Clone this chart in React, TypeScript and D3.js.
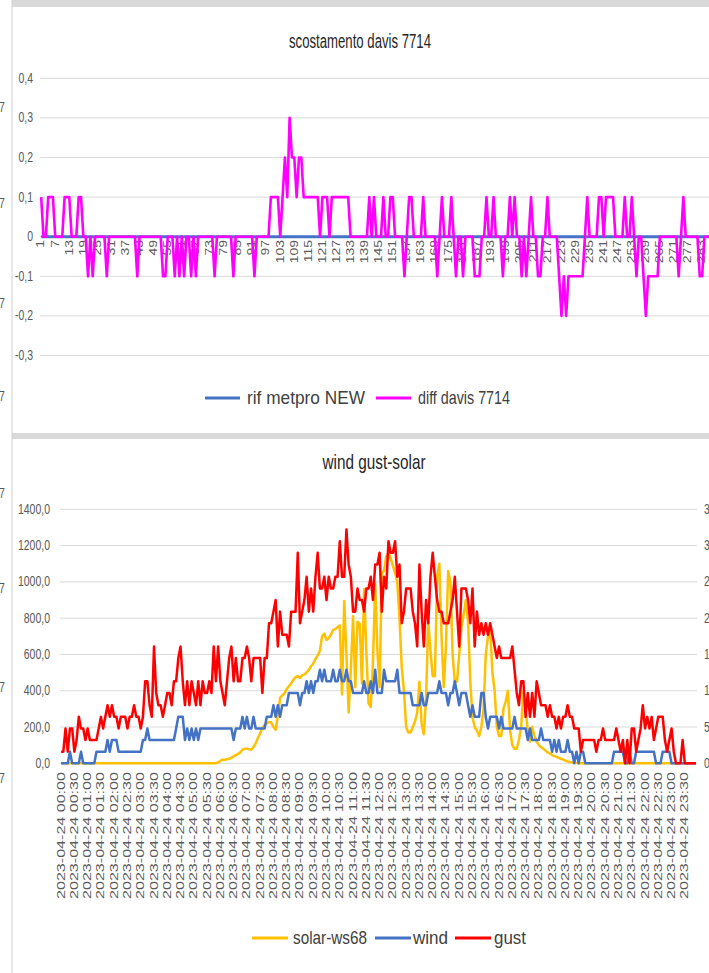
import React from 'react';
import * as d3 from 'd3';

const FONT = '"Liberation Sans", Arial, sans-serif';
const SY = 1.35;

// ---------------- top chart data ----------------
const topYTicks = [0.4, 0.3, 0.2, 0.1, 0, -0.1, -0.2, -0.3];
const topYLabels = ['0,4', '0,3', '0,2', '0,1', '0', '-0,1', '-0,2', '-0,3'];

const rifMetproNew = [
  0,0,0,0,0,0,0,0,0,0,0,0,0,0,0,0,0,0,0,0,0,0,0,0,
  0,0,0,0,0,0,0,0,0,0,0,0,0,0,0,0,0,0,0,0,0,0,0,0,
  0,0,0,0,0,0,0,0,0,0,0,0,0,0,0,0,0,0,0,0,0,0,0,0,
  0,0,0,0,0,0,0,0,0,0,0,0,0,0,0,0,0,0,0,0,0,0,0,0,
  0,0,0,0,0,0,0,0,0,0,0,0,0,0,0,0,0,0,0,0,0,0,0,0,
  0,0,0,0,0,0,0,0,0,0,0,0,0,0,0,0,0,0,0,0,0,0,0,0,
  0,0,0,0,0,0,0,0,0,0,0,0,0,0,0,0,0,0,0,0,0,0,0,0,
  0,0,0,0,0,0,0,0,0,0,0,0,0,0,0,0,0,0,0,0,0,0,0,0,
  0,0,0,0,0,0,0,0,0,0,0,0,0,0,0,0,0,0,0,0,0,0,0,0,
  0,0,0,0,0,0,0,0,0,0,0,0,0,0,0,0,0,0,0,0,0,0,0,0,
  0,0,0,0,0,0,0,0,0,0,0,0,0,0,0,0,0,0,0,0,0,0,0,0,
  0,0,0,0,0,0,0,0,0,0,0,0,0,0,0,0,0,0,0,0,0,0,0,0,
];

const diffDavis7714 = [
  0.1,0,0,0.1,0.1,0.1,0,0,0,0,0.1,0.1,0.1,0,0,0,0.1,0.1,0,0,-0.1,0,-0.1,0,
  0,0,0,0,-0.1,0,0,0,0,0,0,0,0,0,0,0,0,-0.1,0,0,0,0,0,0,
  0,0,0,0,-0.1,-0.1,0,0,0,-0.1,0,-0.1,0,-0.1,0,0,-0.1,0,-0.1,0,0,0,0,0,
  0,0,-0.1,0,0,0,0,0,0,0,-0.1,0,0,0,0,0,0,0,0,-0.1,0,0,0,0,
  0,0,0.1,0.1,0.1,0.1,0,0.1,0.2,0.1,0.3,0.2,0.2,0.1,0.2,0.2,0.1,0.1,0.1,0.1,0.1,0.1,0.1,0,
  0.1,0.1,0.1,0,0.1,0.1,0.1,0.1,0.1,0.1,0.1,0.1,0,0,0,0,0,0,0,0,0.1,0,0.1,0,
  0,0,0.1,0,0,0.1,0.1,0,0,0,0,-0.1,0,0.1,0.1,0,0,0,0,0.1,0,0,0,0,
  0,-0.1,0,0.1,0,0,0,0.1,0,-0.1,0,0,-0.1,0,0,0,0,-0.1,-0.1,-0.1,0,0,0.1,0,
  0,0.1,0,0,0,-0.1,0,0,0.1,0,0.1,0,0,-0.1,0,-0.1,0,0.1,0,0,-0.1,-0.1,0,0,
  0.1,0,0,0,0,-0.1,-0.2,-0.1,-0.2,-0.1,-0.1,-0.1,-0.1,-0.1,-0.1,-0.1,0,0.1,0,0,0,0,0.1,0.1,
  0,0.1,0.1,0.1,0.1,0,0,0,0,0.1,0,0,0.1,0,-0.1,0,0,-0.1,-0.2,-0.1,-0.1,-0.1,-0.1,-0.1,
  0,0,0,0,0,0,0,0,-0.1,0,0.1,0,0,0,0,0,0,-0.1,-0.1,0,0,0,0,0,
];

// ---------------- bottom chart data ----------------
const timeLabels = [
  '2023-04-24 00:00','2023-04-24 00:30','2023-04-24 01:00','2023-04-24 01:30',
  '2023-04-24 02:00','2023-04-24 02:30','2023-04-24 03:00','2023-04-24 03:30',
  '2023-04-24 04:00','2023-04-24 04:30','2023-04-24 05:00','2023-04-24 05:30',
  '2023-04-24 06:00','2023-04-24 06:30','2023-04-24 07:00','2023-04-24 07:30',
  '2023-04-24 08:00','2023-04-24 08:30','2023-04-24 09:00','2023-04-24 09:30',
  '2023-04-24 10:00','2023-04-24 10:30','2023-04-24 11:00','2023-04-24 11:30',
  '2023-04-24 12:00','2023-04-24 12:30','2023-04-24 13:00','2023-04-24 13:30',
  '2023-04-24 14:00','2023-04-24 14:30','2023-04-24 15:00','2023-04-24 15:30',
  '2023-04-24 16:00','2023-04-24 16:30','2023-04-24 17:00','2023-04-24 17:30',
  '2023-04-24 18:00','2023-04-24 18:30','2023-04-24 19:00','2023-04-24 19:30',
  '2023-04-24 20:00','2023-04-24 20:30','2023-04-24 21:00','2023-04-24 21:30',
  '2023-04-24 22:00','2023-04-24 22:30','2023-04-24 23:00','2023-04-24 23:30',
];
const leftTicks = [0, 200, 400, 600, 800, 1000, 1200, 1400];
const leftLabels = ['0,0', '200,0', '400,0', '600,0', '800,0', '1000,0', '1200,0', '1400,0'];
const rightTicks = [0, 5, 10, 15, 20, 25, 30, 35];
const rightLabels = ['0,0', '5,0', '10,0', '15,0', '20,0', '25,0', '30,0', '35,0'];

// W/m2 (left axis)
const solarWs68 = [
  0,0,0,0,0,0,0,0,0,0,0,0,0,0,0,0,0,0,0,0,0,0,0,0,
  0,0,0,0,0,0,0,0,0,0,0,0,0,0,0,0,0,0,0,0,0,0,0,0,
  0,0,0,0,0,0,0,0,0,0,0,0,0,0,0,0,0,0,0,0,0,0,0,5,
  13,20,20,22,25,30,38,45,52,60,75,80,80,78,75,90,110,140,165,195,212,220,228,225,
  200,185,260,360,375,385,410,425,440,460,475,480,470,485,490,500,515,535,550,575,595,620,700,715,
  680,690,710,735,740,750,760,380,895,600,280,520,810,420,780,770,440,960,620,330,310,560,990,620,
  420,1050,1060,1140,1160,1130,1090,1050,1000,800,530,400,200,170,170,200,230,280,450,220,160,360,790,620,
  480,480,1030,1100,700,420,650,1060,1000,600,450,450,600,750,820,900,780,450,250,200,180,150,200,300,
  600,700,740,500,400,200,150,150,300,340,400,180,100,80,80,130,200,400,300,180,120,200,150,120,
  100,90,80,70,60,55,45,40,35,30,25,20,15,10,8,5,3,1,0,0,0,0,0,0,
  0,0,0,0,0,0,0,0,0,0,0,0,0,0,0,0,0,0,0,0,0,0,0,0,
  0,0,0,0,0,0,0,0,0,0,0,0,0,0,0,0,0,0,0,0,0,0,0,0,
];

// km/h (right axis)
const wind = [
  0,0,0,0,1.6,0,0,0,0,1.6,0,0,0,0,0,0,1.6,1.6,1.6,1.6,1.6,3.2,1.6,3.2,
  3.2,3.2,1.6,1.6,1.6,1.6,1.6,1.6,1.6,1.6,1.6,1.6,1.6,3.2,3.2,4.8,3.2,3.2,3.2,3.2,3.2,3.2,3.2,3.2,
  3.2,3.2,3.2,3.2,4.8,6.4,6.4,6.4,3.2,4.8,3.2,4.8,3.2,4.8,3.2,4.8,4.8,4.8,4.8,4.8,4.8,4.8,4.8,4.8,
  4.8,4.8,4.8,4.8,4.8,4.8,3.2,4.8,4.8,4.8,6.4,4.8,6.4,4.8,4.8,6.4,4.8,4.8,4.8,4.8,4.8,6.4,6.4,6.4,
  8.0,6.4,8.0,6.4,8.0,8.0,8.0,9.7,9.7,9.7,9.7,9.7,8.0,9.7,9.7,11.3,9.7,11.3,9.7,11.3,11.3,12.9,11.3,12.9,
  11.3,11.3,11.3,12.9,11.3,11.3,12.9,11.3,11.3,12.9,11.3,11.3,9.7,9.7,9.7,9.7,9.7,11.3,9.7,9.7,11.3,9.7,12.9,9.7,
  9.7,9.7,12.9,11.3,11.3,11.3,11.3,11.3,12.9,9.7,9.7,9.7,9.7,9.7,9.7,8.0,8.0,8.0,8.0,9.7,8.0,8.0,9.7,9.7,
  9.7,9.7,9.7,11.3,9.7,9.7,9.7,8.0,9.7,9.7,11.3,9.7,8.0,9.7,9.7,9.7,8.0,6.4,8.0,6.4,6.4,6.4,9.7,9.7,
  6.4,4.8,6.4,6.4,6.4,6.4,4.8,6.4,4.8,4.8,4.8,4.8,4.8,6.4,4.8,4.8,4.8,4.8,4.8,3.2,4.8,3.2,3.2,3.2,
  3.2,4.8,3.2,3.2,3.2,3.2,1.6,3.2,1.6,3.2,1.6,1.6,1.6,3.2,1.6,1.6,0,1.6,0,1.6,1.6,0,0,0,
  0,0,0,0,0,0,0,0,0,0,1.6,1.6,1.6,1.6,1.6,0,0,1.6,0,0,1.6,1.6,1.6,1.6,
  1.6,1.6,1.6,1.6,1.6,0,0,0,1.6,1.6,1.6,1.6,0,0,0,0,0,0,0,0,0,0,0,0,
];

const gust = [
  1.6,1.6,4.8,1.6,4.8,4.8,1.6,3.2,6.4,4.8,4.8,3.2,4.8,3.2,3.2,3.2,3.2,4.8,6.4,4.8,6.4,8.0,6.4,8.0,
  6.4,6.4,4.8,6.4,6.4,6.4,4.8,6.4,6.4,8.0,6.4,6.4,4.8,6.4,11.3,11.3,8.0,6.4,16.1,9.7,8.0,8.0,6.4,8.0,
  9.7,9.7,8.0,11.3,11.3,14.5,16.1,11.3,8.0,11.3,8.0,11.3,9.7,8.0,11.3,8.0,11.3,9.7,9.7,11.3,9.7,16.1,11.3,16.1,
  11.3,9.7,8.0,11.3,14.5,16.1,11.3,14.5,11.3,11.3,14.5,14.5,16.1,14.5,11.3,14.5,14.5,14.5,14.5,9.7,14.5,14.5,19.3,19.3,
  20.9,22.5,16.1,20.9,17.7,17.7,17.7,16.1,20.9,20.9,20.9,29.0,19.3,20.9,22.5,25.7,20.9,24.1,20.9,25.7,29.0,24.1,24.1,25.7,
  22.5,25.7,24.1,24.1,25.7,25.7,30.6,25.7,25.7,32.2,27.4,25.7,20.9,20.9,24.1,22.5,22.5,20.9,24.1,24.1,25.7,22.5,27.4,27.4,
  29.0,20.9,25.7,24.1,30.6,29.0,29.0,30.6,25.7,27.4,19.3,20.9,24.1,24.1,24.1,20.9,19.3,16.1,27.4,20.9,16.1,22.5,19.3,25.7,
  29.0,25.7,22.5,20.9,20.9,19.3,19.3,19.3,20.9,22.5,25.7,20.9,16.1,24.1,24.1,24.1,22.5,19.3,24.1,16.1,20.9,17.7,19.3,17.7,
  19.3,17.7,19.3,17.7,16.1,14.5,16.1,14.5,14.5,14.5,14.5,14.5,16.1,12.9,9.7,8.0,11.3,11.3,6.4,9.7,6.4,9.7,6.4,11.3,
  9.7,8.0,8.0,8.0,6.4,8.0,6.4,6.4,4.8,6.4,4.8,6.4,6.4,8.0,6.4,6.4,4.8,4.8,4.8,1.6,3.2,3.2,3.2,3.2,
  3.2,3.2,1.6,3.2,3.2,4.8,3.2,3.2,3.2,3.2,3.2,4.8,3.2,1.6,3.2,0,3.2,0,4.8,4.8,1.6,3.2,4.8,8.0,
  4.8,6.4,4.8,6.4,3.2,4.8,6.4,6.4,6.4,3.2,1.6,3.2,4.8,1.6,0,0,0,3.2,0,0,0,0,0,0,
];

const legendTop = [
  { name: 'rif metpro NEW', color: '#4472C4' },
  { name: 'diff davis 7714', color: '#FF00FF' },
];
const legendBottom = [
  { name: 'solar-ws68', color: '#FFC000' },
  { name: 'wind', color: '#4472C4' },
  { name: 'gust', color: '#FF0000' },
];

type TProps = {
  x: number; y: number; children: React.ReactNode; anchor?: string; size?: number;
  fill?: string; sx?: number; sy?: number; rotate?: number; len?: number; weight?: number;
};
function T({ x, y, children, anchor = 'start', size = 10.5, fill = '#595959', sx = 1, sy = SY, rotate = 0, len, weight }: TProps) {
  const tr = `translate(${x},${y}) scale(${sx},${sy})` + (rotate ? ` rotate(${rotate})` : '');
  return (
    <text
      transform={tr}
      textAnchor={anchor as any}
      dominantBaseline="central"
      fontSize={size}
      fill={fill}
      fontFamily={FONT}
      fontWeight={weight}
      {...(len ? { textLength: len, lengthAdjust: 'spacingAndGlyphs' } : {})}
    >
      {children}
    </text>
  );
}

export default function App() {
  const W = 709, H = 973;
  const n = diffDavis7714.length;
  const idx = d3.range(n);

  // ---- top chart scales ----
  const xTop = d3.scaleBand<number>().domain(idx).range([40, 715]);
  const xTopC = (i: number) => (xTop(i) as number) + xTop.bandwidth() / 2;
  const yTop = d3.scaleLinear().domain([-0.3, 0.4]).range([355.5, 78.3]);
  const lineTop = d3.line<number>().x((_, i) => xTopC(i)).y((v) => yTop(v));

  // ---- bottom chart scales ----
  const xBot = d3.scaleBand<number>().domain(idx).range([60, 697]);
  const xBotC = (i: number) => (xBot(i) as number) + xBot.bandwidth() / 2;
  const yL = d3.scaleLinear().domain([0, 1400]).range([763.3, 509.3]);
  const yR = d3.scaleLinear().domain([0, 35]).range([763.3, 509.3]);
  const lineL = d3.line<number>().x((_, i) => xBotC(i)).y((v) => yL(v));
  const lineR = d3.line<number>().x((_, i) => xBotC(i)).y((v) => yR(v));

  const edgeSevens = [107, 203, 303, 396, 493, 588, 687, 778];

  return (
    <svg width={W} height={H} style={{ position: 'absolute', left: 0, top: 0, background: '#fff' }}>
      <rect x={0} y={0} width={W} height={H} fill="#fff" />
      {/* sheet bands */}
      <rect x={12} y={0} width={W} height={7} fill="#d9d9d9" />
      <rect x={12} y={433} width={W} height={6} fill="#d9d9d9" />
      <line x1={12} x2={12} y1={0} y2={H} stroke="#d0d0d0" strokeWidth={1} />
      {edgeSevens.map((y, k) => (
        <T key={k} x={-1} y={y} size={10.5}>7</T>
      ))}

      {/* ================= TOP CHART ================= */}
      <T x={360} y={41} anchor="middle" size={15} fill="#262626" sy={1.35} len={142}>scostamento davis 7714</T>
      {topYTicks.map((t, k) => (
        <g key={k}>
          <line x1={40} x2={715} y1={yTop(t)} y2={yTop(t)} stroke="#d9d9d9" strokeWidth={1} />
          <T x={33} y={yTop(t)} anchor="end">{topYLabels[k]}</T>
        </g>
      ))}
      {idx.filter((i) => i % 6 === 0).map((i) => (
        <T key={i} x={xTopC(i)} y={240} anchor="end" rotate={-90} size={10} sy={1.4}>{String(i + 1)}</T>
      ))}
      <path d={lineTop(rifMetproNew) || ''} fill="none" stroke="#4472C4" strokeWidth={3} />
      <path d={lineTop(diffDavis7714) || ''} fill="none" stroke="#FF00FF" strokeWidth={2.6} strokeLinejoin="round" />

      {/* top legend */}
      {legendTop.map((l, k) => {
        const lx = [205, 376][k];
        const tx = [247, 418][k];
        const tl = [118, 92][k];
        return (
          <g key={k}>
            <line x1={lx} x2={lx + 35} y1={398} y2={398} stroke={l.color} strokeWidth={3} />
            <T x={tx} y={398} size={13} fill="#404040" sy={1.35} len={tl}>{l.name}</T>
          </g>
        );
      })}

      {/* ================= BOTTOM CHART ================= */}
      <T x={374} y={463} anchor="middle" size={14} fill="#262626" sy={1.4} len={103}>wind gust-solar</T>
      {leftTicks.map((t, k) => (
        <g key={k}>
          <line x1={60} x2={697} y1={yL(t)} y2={yL(t)} stroke="#d9d9d9" strokeWidth={1} />
          <T x={50} y={yL(t)} anchor="end">{leftLabels[k]}</T>
        </g>
      ))}
      {rightTicks.map((t, k) => (
        <T key={k} x={704} y={yR(t)} anchor="start">{rightLabels[k]}</T>
      ))}
      {idx.filter((i) => i % 6 === 0).map((i, k) => (
        <T key={i} x={xBotC(i)} y={772} anchor="end" rotate={-90} size={10} sy={1} len={127}>{timeLabels[k]}</T>
      ))}
      <path d={lineL(solarWs68) || ''} fill="none" stroke="#FFC000" strokeWidth={2.5} strokeLinejoin="round" />
      <path d={lineR(wind) || ''} fill="none" stroke="#4472C4" strokeWidth={2.5} strokeLinejoin="round" />
      <path d={lineR(gust) || ''} fill="none" stroke="#FF0000" strokeWidth={2.5} strokeLinejoin="round" />

      {/* bottom legend */}
      {legendBottom.map((l, k) => {
        const lx = [252, 375, 455][k];
        const tx = [293, 413, 494][k];
        const tl = [74, 35, 32][k];
        return (
          <g key={k}>
            <line x1={lx} x2={lx + 36} y1={938} y2={938} stroke={l.color} strokeWidth={3} />
            <T x={tx} y={938} size={13} fill="#404040" sy={1.35} len={tl}>{l.name}</T>
          </g>
        );
      })}
    </svg>
  );
}
